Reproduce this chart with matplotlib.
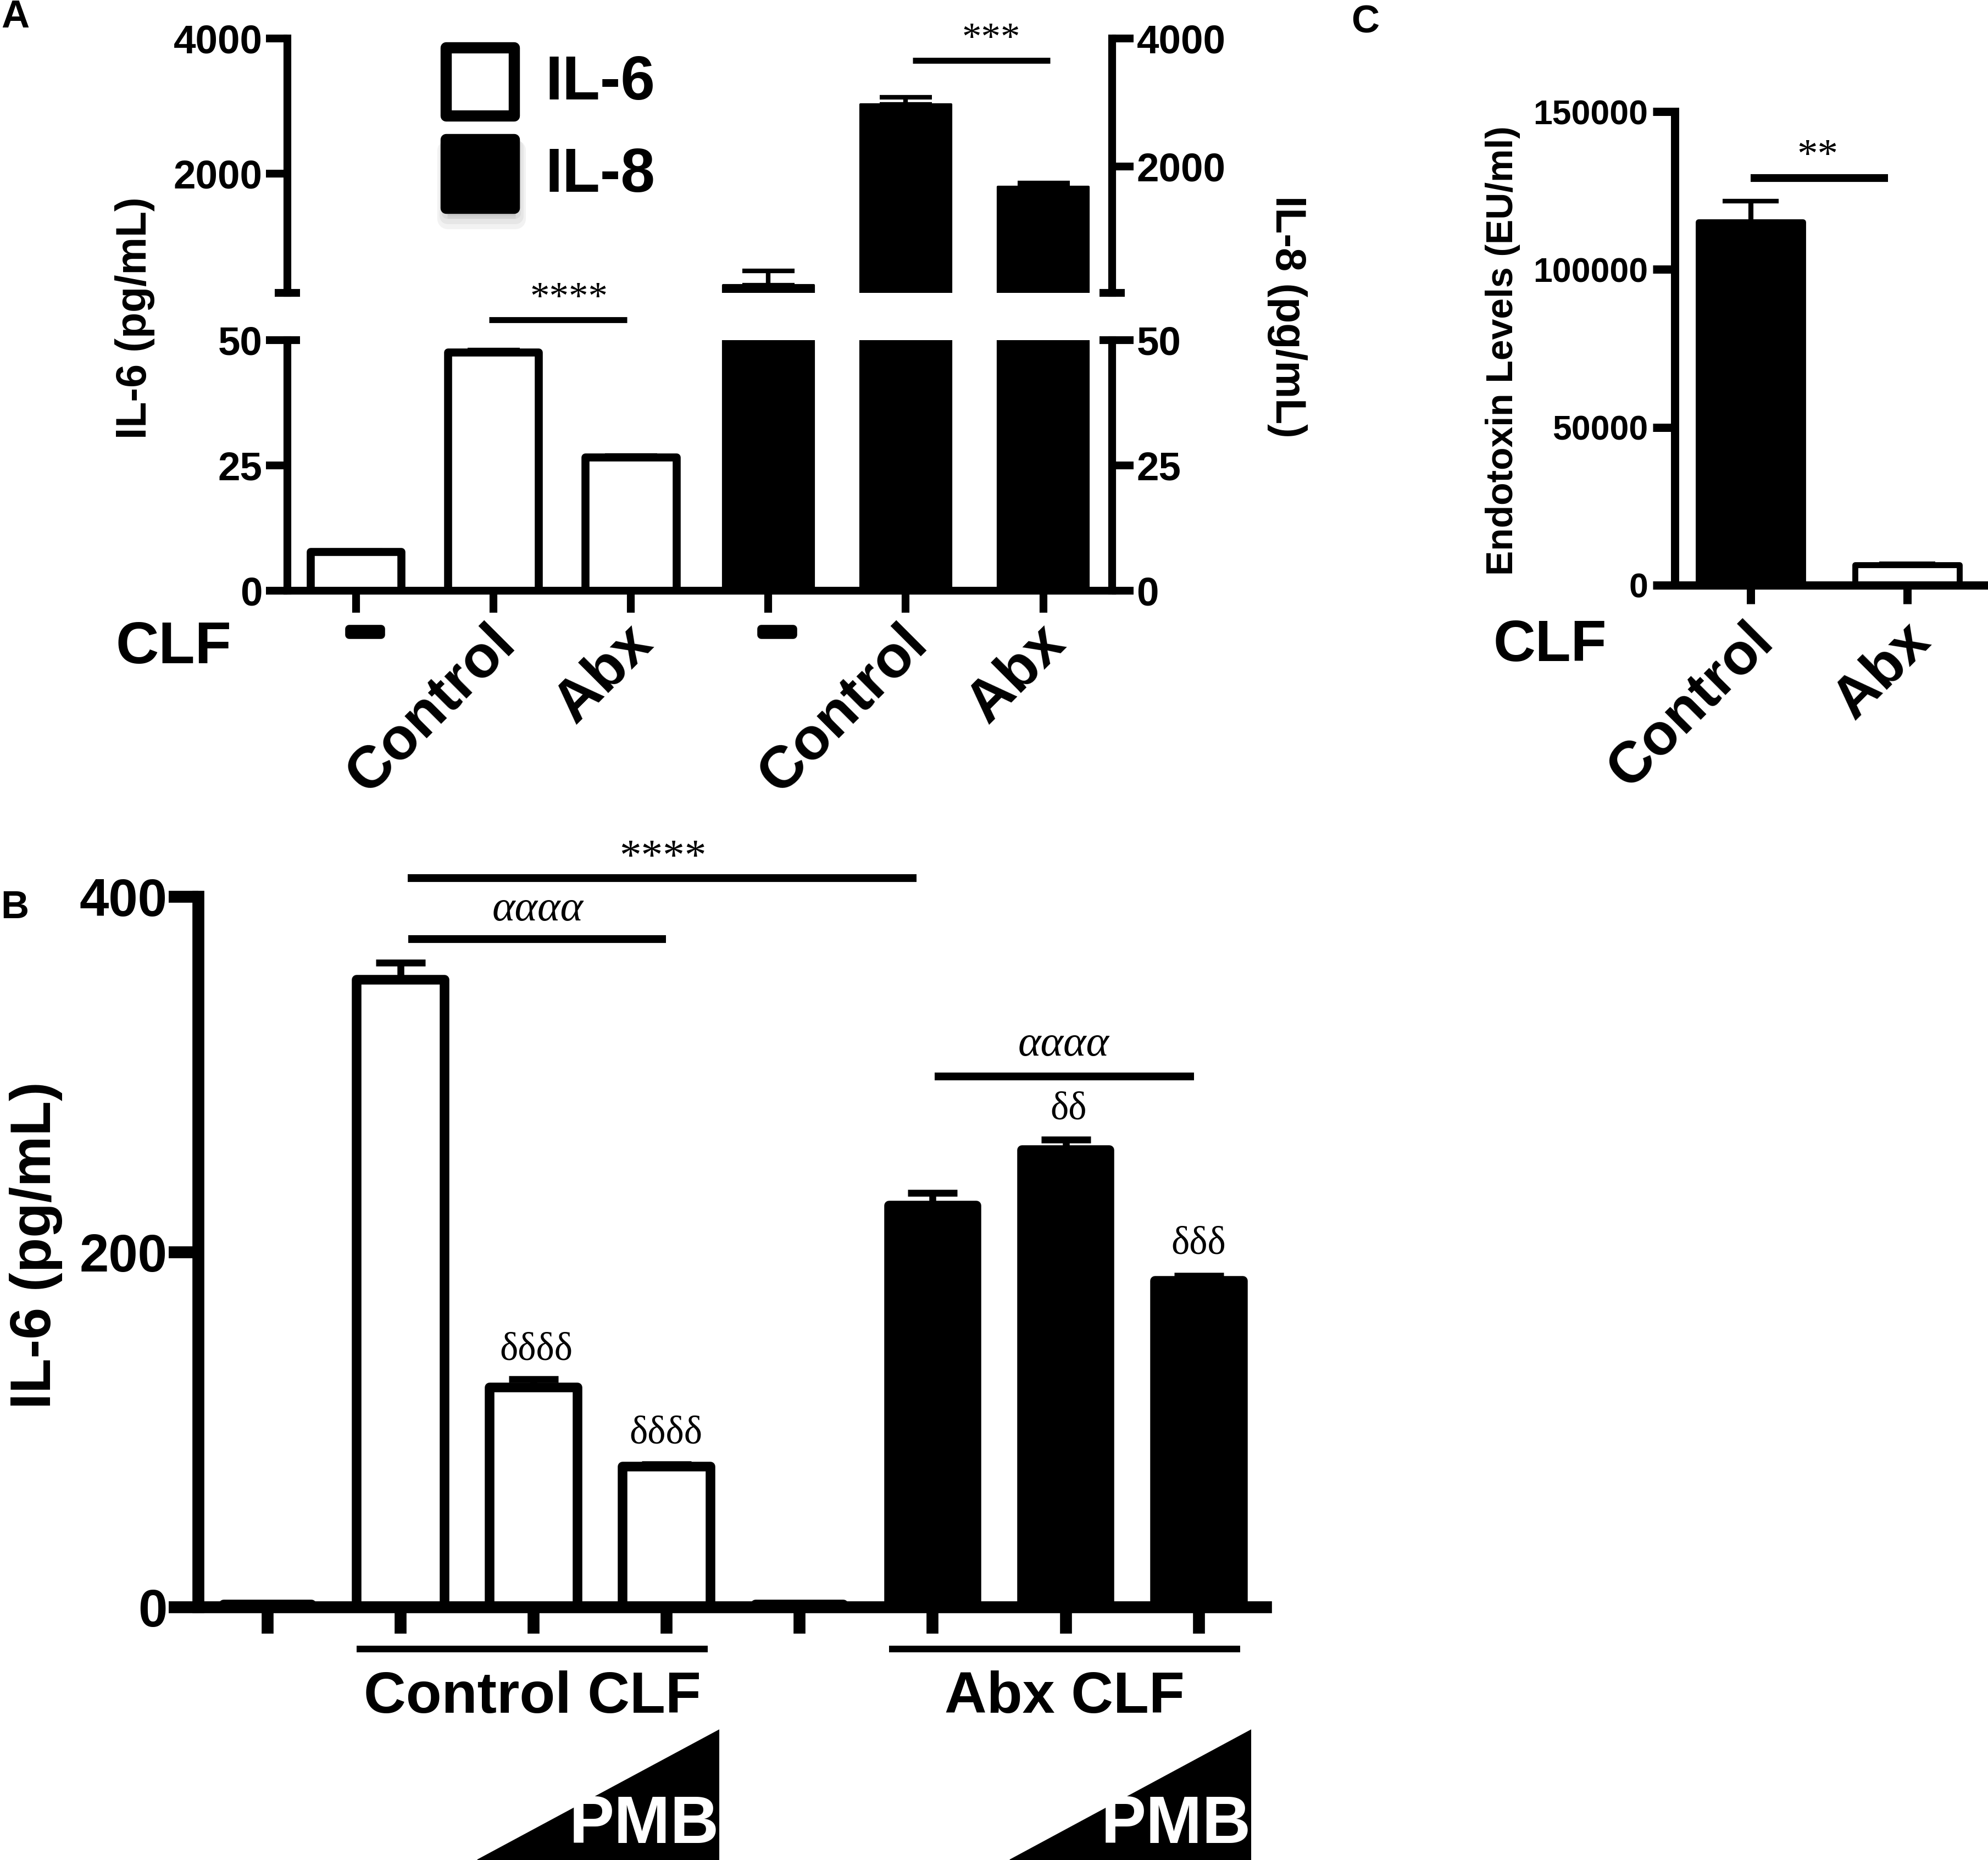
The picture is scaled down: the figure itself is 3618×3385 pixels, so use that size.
import numpy as np
import matplotlib
matplotlib.use('Agg')
import matplotlib.pyplot as plt
from matplotlib.patches import Rectangle, Polygon
from matplotlib.transforms import ScaledTranslation
import matplotlib.patheffects as pe

plt.rcParams['font.family'] = ['Liberation Sans', 'DejaVu Sans']
plt.rcParams['font.weight'] = 'bold'
SERIF = ['Liberation Serif', 'DejaVu Serif']

# ---------------- data ----------------
clf_labels_A = ['–', 'Control', 'Abx']
il6_A = [7.7, 47.6, 26.6]
il6_A_err = [0.3, 0.4, 0.3]
il8_A = [143, 2975, 1679]
il8_A_err = [224, 109, 61]

groups_B = ['Control CLF', 'Abx CLF']
il6_B = [1.5, 353.4, 123.9, 79.3, 1.5, 226.2, 257.3, 183.7]
il6_B_err = [0.3, 9.6, 4.5, 1.0, 0.3, 7.2, 6.0, 3.0]

clf_labels_C = ['Control', 'Abx']
endotoxin_C = [115000, 6500]
endotoxin_C_err = [6700, 300]

# ---------------- layout helpers ----------------
W, H = 1568.0, 1467.0
PT = (3618 / W) * 72 / 300  # points per reference pixel

fig = plt.figure(figsize=(3618 / 300, 3385 / 300), dpi=300)


def rect(l, t, r, b):
    return [l / W, 1 - b / H, (r - l) / W, (b - t) / H]


def ftext(x, y, s, **kw):
    return fig.text(x / W, 1 - y / H, s, **kw)


def off(ax, dx, dy):
    return ax.get_xaxis_transform() + ScaledTranslation(dx * PT / 72, -dy * PT / 72, fig.dpi_scale_trans)


# ================= Panel A =================
xA = np.arange(len(il6_A))
x8 = np.arange(len(il8_A)) + len(il6_A)
wA = 0.66
lwA = 3.4

axA = fig.add_axes(rect(226.5, 268.2, 877, 465.7))
axA8 = axA.twinx()
axAu = fig.add_axes(rect(226.5, 30.4, 877, 231))
axAu8 = axAu.twinx()

for a in (axA, axA8, axAu, axAu8):
    a.set_xlim(-0.5, 5.5)
    a.patch.set_visible(False)
    for s in a.spines.values():
        s.set_linewidth(lwA)
        s.set_visible(False)
    a.yaxis.remove_overlapping_locs = False

axA.set_ylim(0, 50)
axA8.set_ylim(0, 50)
axAu.set_ylim(229, 4000)
axAu8.set_ylim(25, 4000)

axA.spines['left'].set_visible(True)
axA.spines['bottom'].set_visible(True)
axA8.spines['right'].set_visible(True)
axAu.spines['left'].set_visible(True)
axAu8.spines['right'].set_visible(True)

# bars
axA.bar(xA, il6_A, width=wA, color='white', edgecolor='black', linewidth=3.5,
        joinstyle='round', zorder=2)
axA.errorbar(xA, il6_A, yerr=[np.zeros(len(il6_A)), il6_A_err], fmt='none',
             ecolor='black', elinewidth=2, capsize=11.4, capthick=2, zorder=1)
axA8.bar(x8, il8_A, width=wA, color='black', edgecolor='black', linewidth=1, zorder=2)
axAu8.bar(x8, il8_A, width=wA, color='black', edgecolor='black', linewidth=1,
          joinstyle='round', zorder=2)
axAu8.errorbar(x8, il8_A, yerr=[np.zeros(len(il8_A)), il8_A_err], fmt='none',
               ecolor='black', elinewidth=2, capsize=11.4, capthick=2, zorder=1)

# ticks
axA.set_xticks(np.concatenate([xA, x8]))
axA.set_xticklabels([])
axA.tick_params(axis='x', direction='out', length=9.6, width=lwA)
axA8.tick_params(axis='x', bottom=False, labelbottom=False)
axAu.set_xticks([])
axAu8.set_xticks([])

axA.set_yticks([0, 25, 50])
axA.set_yticks([50], minor=True)
axA.tick_params(axis='y', which='major', direction='out', length=9.3, width=lwA,
                labelsize=17.5, pad=1.5)
axA.tick_params(axis='y', which='minor', direction='in', length=5.5, width=lwA)
axA8.set_yticks([0, 25, 50])
axA8.set_yticks([50], minor=True)
axA8.tick_params(axis='y', which='major', direction='out', length=9.3, width=lwA,
                 labelsize=17.5, pad=1.5)
axA8.tick_params(axis='y', which='minor', direction='in', length=5.5, width=lwA)

axAu.set_yticks([2000, 4000])
axAu.set_yticks([229], minor=True)
axAu.tick_params(axis='y', which='major', direction='out', length=9.3, width=lwA,
                 labelsize=17.5, pad=1.5)
axAu.tick_params(axis='y', which='minor', direction='inout', length=11, width=lwA)
axAu8.set_yticks([2000, 4000])
axAu8.set_yticks([25], minor=True)
axAu8.tick_params(axis='y', which='major', direction='out', length=9.3, width=lwA,
                  labelsize=17.5, pad=1.5)
axAu8.tick_params(axis='y', which='minor', direction='inout', length=11, width=lwA)

# category labels
for xi, lab in zip(list(xA) + list(x8), clf_labels_A + clf_labels_A):
    if lab == '–':
        t = axA.text(xi, 0, lab, transform=off(axA, 7, 46), ha='center', va='baseline',
                     fontsize=28, fontweight='bold')
        t.set_path_effects([pe.withStroke(linewidth=3.5, foreground='black')])
    else:
        axA.text(xi, 0, lab, transform=off(axA, -5, 19.5), ha='right', va='top',
                 rotation=45, rotation_mode='anchor', fontsize=26, fontweight='bold')

ftext(91.2, 523.1, 'CLF', fontsize=26, ha='left', va='baseline')
ftext(106.4, 251, 'IL-6 (pg/mL)', fontsize=18.5, rotation=90, ha='center', va='center')
ftext(1015, 250, 'IL-8 (pg/mL)', fontsize=18.5, rotation=270, ha='center', va='center')

# significance A
axA.plot([0.97, 1.97], [54.0, 54.0], color='black', lw=2.6, clip_on=False, solid_capstyle='butt')
axA.text(1.552, 56.2, '****', ha='center', va='baseline', fontsize=17,
         family=SERIF, fontweight='normal', clip_on=False)
axAu8.plot([4.05, 5.05], [3661, 3661], color='black', lw=2.6, clip_on=False, solid_capstyle='butt')
axAu8.text(4.621, 3828, '***', ha='center', va='baseline', fontsize=17,
           family=SERIF, fontweight='normal', clip_on=False)

# legend (A)
def fig_rect(l, t, r, b, **kw):
    p = Rectangle((l / W, 1 - b / H), (r - l) / W, (b - t) / H, transform=fig.transFigure, **kw)
    fig.add_artist(p)
    return p

for k, a in enumerate([0.10, 0.10, 0.10]):
    d = 2 + 2 * k
    fig_rect(351.9 + 1, 110.2 + d + 2, 405.6 + 1, 164.3 + d + 2, facecolor='gray',
             edgecolor='gray', linewidth=4.9 + 2 * k, alpha=a, joinstyle='round')
fig_rect(351.9, 37.8, 405.6, 91.4, facecolor='white', edgecolor='black', linewidth=4.9,
         joinstyle='round')
fig_rect(351.9, 110.2, 405.6, 164.3, facecolor='black', edgecolor='black', linewidth=4.9,
         joinstyle='round')
ftext(430, 78.4, 'IL-6', fontsize=27, ha='left', va='baseline')
ftext(430, 151.1, 'IL-8', fontsize=27, ha='left', va='baseline')

# ================= Panel B =================
xB = np.arange(len(il6_B))
lwB = 5.2
axB = fig.add_axes(rect(156.3, 707.4, 998.4, 1267.6))
axB.set_xlim(-0.521, 7.504)
axB.set_ylim(0, 400)
for s in ['top', 'right']:
    axB.spines[s].set_visible(False)
for s in ['left', 'bottom']:
    axB.spines[s].set_linewidth(lwB)
colorsB = ['white'] * 4 + ['black'] * 4
axB.bar(xB, il6_B, width=0.66, color=colorsB, edgecolor='black', linewidth=4.2,
        joinstyle='round', zorder=2)
axB.errorbar(xB, il6_B, yerr=[np.zeros(len(il6_B)), il6_B_err], fmt='none',
             ecolor='black', elinewidth=3, capsize=10.9, capthick=3, zorder=1)
axB.set_yticks([0, 200, 400])
axB.set_xticks(xB)
axB.set_xticklabels([])
axB.tick_params(axis='y', direction='out', length=13, width=lwB, labelsize=23, pad=0.5)
axB.tick_params(axis='x', direction='out', length=11.6, width=lwB)
ftext(28.6, 982, 'IL-6 (pg/mL)', fontsize=25, rotation=90, ha='center', va='center')

serif_kw = dict(family=SERIF, fontweight='normal', ha='center', va='baseline', clip_on=False)
axB.plot([1.053, 4.877], [410.6, 410.6], color='black', lw=3.4, clip_on=False, solid_capstyle='butt')
axB.text(2.971, 415.8, '****', fontsize=19, **serif_kw)
axB.plot([1.058, 2.995], [376.4, 376.4], color='black', lw=3.4, clip_on=False, solid_capstyle='butt')
axB.text(2.03, 386.9, 'αααα', fontsize=19, style='italic', **serif_kw)
axB.plot([5.016, 6.965], [298.8, 298.8], color='black', lw=3.4, clip_on=False, solid_capstyle='butt')
axB.text(5.985, 310.6, 'αααα', fontsize=19, style='italic', **serif_kw)
axB.text(6.023, 275.0, 'δδ', fontsize=17, **serif_kw)
axB.text(7.0, 199.1, 'δδδ', fontsize=17, **serif_kw)
axB.text(2.02, 139.5, 'δδδδ', fontsize=17, **serif_kw)
axB.text(2.996, 92.3, 'δδδδ', fontsize=17, **serif_kw)

# group labels and PMB wedges
group_idx = [[1, 2, 3], [5, 6, 7]]
for g, idx in zip(groups_B, group_idx):
    axB.plot([idx[0] - 0.33, idx[-1] + 0.31], [-23.6, -23.6], color='black', lw=2.9,
             clip_on=False, solid_capstyle='butt')
    axB.text((idx[0] + idx[-1]) / 2 - 0.01, -59.6, g, ha='center', va='baseline',
             fontsize=25.5, fontweight='bold', clip_on=False)
    x0, x1 = idx[1] - 0.42, idx[2] + 0.39
    tri = Polygon([(x0, -142.5), (x1, -142.5), (x1, -69.2)], closed=True,
                  facecolor='black', edgecolor='black', lw=0.5, clip_on=False)
    axB.add_patch(tri)
    axB.text(x1 - 0.56, -140.6, 'PMB', ha='center', va='bottom', fontsize=29.5,
             color='white', fontweight='bold', clip_on=False)

# ================= Panel C =================
xC = np.arange(len(endotoxin_C))
lwC = 3.6
axC = fig.add_axes(rect(1320.9, 88.1, 1568, 461.5))
axC.set_xlim(-0.485, 1.515)
axC.set_ylim(0, 150000)
for s in ['top', 'right']:
    axC.spines[s].set_visible(False)
for s in ['left', 'bottom']:
    axC.spines[s].set_linewidth(lwC)
axC.bar(xC, endotoxin_C, width=0.665, color=['black', 'white'], edgecolor='black',
        linewidth=2.6, joinstyle='round', zorder=2)
axC.errorbar(xC, endotoxin_C, yerr=[np.zeros(len(endotoxin_C)), endotoxin_C_err], fmt='none',
             ecolor='black', elinewidth=2.2, capsize=12.2, capthick=2, zorder=1)
axC.set_yticks([0, 50000, 100000, 150000])
axC.set_yticklabels(['0', '50000', '100000', '150000'])
axC.set_xticks(xC)
axC.set_xticklabels([])
axC.tick_params(axis='y', direction='out', length=9.6, width=lwC, labelsize=15, pad=2)
axC.tick_params(axis='x', direction='out', length=8.2, width=lwC)
for xi, lab in zip(xC, clf_labels_C):
    axC.text(xi, 0, lab, transform=off(axC, -4, 22), ha='right', va='top',
             rotation=45, rotation_mode='anchor', fontsize=25.5, fontweight='bold')
axC.plot([0, 0.875], [128900, 128900], color='black', lw=3.4, clip_on=False, solid_capstyle='butt')
axC.text(0.426, 132500, '**', fontsize=18, **serif_kw)
ftext(1177.8, 521.4, 'CLF', fontsize=25.5, ha='left', va='baseline')
ftext(1185.5, 276.6, 'Endotoxin Levels (EU/ml)', fontsize=16.3, rotation=90,
      ha='center', va='center')

# panel letters
ftext(12, 13.7, 'A', fontsize=17, ha='center', va='center')
ftext(11.7, 716.5, 'B', fontsize=17, ha='center', va='center')
ftext(1077, 18, 'C', fontsize=17, ha='center', va='center')

fig.savefig('out.png', dpi=300)
